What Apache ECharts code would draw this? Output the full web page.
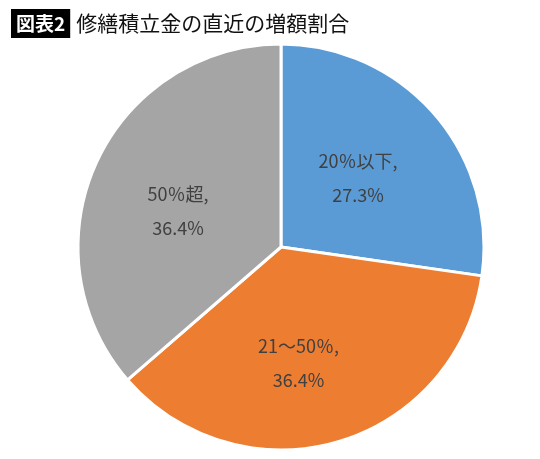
<!DOCTYPE html>
<html>
<head>
<meta charset="utf-8">
<script src="https://cdn.jsdelivr.net/npm/echarts@6/dist/echarts.min.js"></script>
<style>
  html, body { margin: 0; padding: 0; background: #fff; }
  #chart { width: 540px; height: 459px; }
</style>
</head>
<body>
<div id="chart"></div>
<script>
// 凡例と値
var categories = ['20％以下', '21～50％', '50％超'];
var values = [27.3, 36.4, 36.4];
var colors = ['#5B9BD5', '#ED7D31', '#A5A5A5'];

var myChart = echarts.init(document.getElementById('chart'));

var pieData = categories.map(function (name, i) {
    return { name: name, value: values[i], itemStyle: { color: colors[i] } };
});

// ラベル位置の微調整（Excel風）
var labelShift = [[-2, 0], [-12, 16], [-8, 8]];

var option = {
    backgroundColor: '#fff',
    animation: false,
    title: {
        left: 6,
        top: 4,
        text: '{box|図表2}{main|修繕積立金の直近の増額割合}',
        textStyle: {
            rich: {
                box: {
                    backgroundColor: '#000',
                    color: '#fff',
                    fontFamily: 'Noto Sans CJK JP',
                    fontWeight: 'bold',
                    fontSize: 19,
                    lineHeight: 29,
                    height: 29,
                    padding: [0, 5, 0, 5]
                },
                main: {
                    color: '#111',
                    fontFamily: 'Noto Sans CJK JP',
                    fontWeight: 'normal',
                    fontSize: 21,
                    lineHeight: 29,
                    padding: [0, 0, 0, 6]
                }
            }
        }
    },
    series: [{
        type: 'pie',
        center: [281, 247],
        radius: 203,
        startAngle: 90,
        clockwise: true,
        data: pieData,
        itemStyle: {
            borderColor: '#fff',
            borderWidth: 3
        },
        label: {
            show: true,
            position: 'inside',
            color: '#404040',
            fontFamily: 'Noto Sans CJK JP',
            fontSize: 18,
            lineHeight: 34,
            formatter: function (p) {
                return p.name + ',\n' + p.value.toFixed(1) + '%';
            }
        },
        labelLayout: function (params) {
            var s = labelShift[params.dataIndex];
            return { dx: s[0], dy: s[1] };
        },
        labelLine: { show: false }
    }]
};

myChart.setOption(option);

window.addEventListener('resize', function () {
    myChart.resize();
});
</script>
</body>
</html>
